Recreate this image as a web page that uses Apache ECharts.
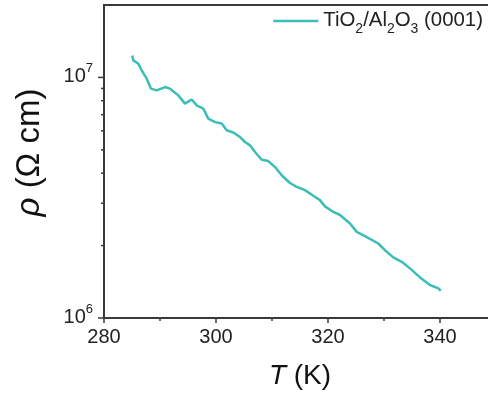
<!DOCTYPE html>
<html>
<head>
<meta charset="utf-8">
<script src="https://cdn.jsdelivr.net/npm/echarts@6/dist/echarts.min.js"></script>
<style>html,body{margin:0;padding:0;background:#fff;}#c{width:488px;height:398px;}</style>
</head>
<body>
<div id="c"></div>
<script>
var seriesName = 'TiO2/Al2O3 (0001)';
var temps = [285.05, 285.23, 286.13, 286.73, 287.63, 288.39, 289.41, 290.89, 291.79, 293.27, 294.46, 295.66, 296.55, 297.73, 298.63, 299.82, 301.02, 301.91, 303.09, 304.29, 305.18, 306.07, 306.96, 308.16, 309.34, 310.54, 311.73, 313.21, 314.41, 315.89, 317.38, 318.57, 319.46, 320.95, 322.14, 323.93, 325.13, 326.91, 328.98, 330.48, 331.66, 333.16, 334.64, 336.43, 338.21, 339.70, 340.13];
var rho = [1.234e7, 1.177e7, 1.140e7, 1.069e7, 9.88e6, 8.98e6, 8.83e6, 9.12e6, 8.98e6, 8.42e6, 7.78e6, 8.10e6, 7.65e6, 7.42e6, 6.74e6, 6.52e6, 6.43e6, 6.03e6, 5.90e6, 5.65e6, 5.39e6, 5.22e6, 4.90e6, 4.55e6, 4.49e6, 4.24e6, 3.92e6, 3.64e6, 3.51e6, 3.40e6, 3.22e6, 3.09e6, 2.91e6, 2.76e6, 2.68e6, 2.47e6, 2.28e6, 2.17e6, 2.04e6, 1.884e6, 1.786e6, 1.712e6, 1.608e6, 1.475e6, 1.371e6, 1.328e6, 1.298e6];
var xMin = 280, xMax = 350, xInterval = 20;
var yMin = 1e6, yMax = 2e7;
var xMinorTicks = [290, 310, 330];
var yMajorTicks = [1e6, 1e7];
var yMinorTicks = [2e6, 3e6, 4e6, 5e6, 6e6, 7e6, 8e6, 9e6];

var FONT = '"Liberation Sans", Arial, sans-serif';
var AX = '#3a3a3a';
var LINE = '#3bbdb8';
var chart = echarts.init(document.getElementById('c'), null, {renderer: 'canvas'});

function tickSeries(data, horizontal, len) {
  return {
    type: 'custom', silent: true, clip: false, z: 5,
    data: data,
    renderItem: function (params, api) {
      var p = api.coord([api.value(0), api.value(1)]);
      var shape = horizontal ? {x1: p[0] - len, y1: p[1], x2: p[0], y2: p[1]}
                             : {x1: p[0], y1: p[1], x2: p[0], y2: p[1] + len};
      return {type: 'line', shape: shape, style: {stroke: AX, lineWidth: 1.5}};
    }
  };
}

var option = {
  animation: false,
  backgroundColor: '#fff',
  textStyle: {fontFamily: FONT},
  grid: {left: 104, right: -8, top: 5, bottom: 80, show: true, borderColor: AX, borderWidth: 2, outerBoundsMode: 'none'},
  legend: {
    data: [seriesName],
    left: 267, top: 5,
    itemWidth: 45, itemHeight: 14,
    itemStyle: {opacity: 0},
    lineStyle: {width: 2.5, color: LINE},
    formatter: function () { return '{n|TiO}{s|2}{n|/Al}{s|2}{n|O}{s|3}{n| (0001)}'; },
    textStyle: {
      fontFamily: FONT, color: '#222',
      rich: {
        n: {fontSize: 20.4, lineHeight: 22, fontFamily: FONT, color: '#222', verticalAlign: 'top'},
        s: {fontSize: 14, lineHeight: 14, padding: [12, 0, 0, 0], fontFamily: FONT, color: '#222', verticalAlign: 'top'}
      }
    }
  },
  xAxis: {
    type: 'value', min: xMin, max: xMax, interval: xInterval,
    name: '{i|T} (K)', nameLocation: 'middle', nameGap: 44,
    nameTextStyle: {fontSize: 28, fontFamily: FONT, color: '#111',
      rich: {i: {fontSize: 28, fontStyle: 'italic', fontFamily: FONT, color: '#111'}}},
    axisLine: {lineStyle: {color: AX, width: 2}},
    axisTick: {show: true, length: 5, lineStyle: {color: AX, width: 1.5}},
    axisLabel: {fontSize: 20, color: '#222', margin: 9, showMaxLabel: false, fontFamily: FONT},
    splitLine: {show: false}
  },
  yAxis: {
    type: 'log', min: yMin, max: yMax, logBase: 10,
    name: '{i|ρ} (Ω cm)', nameLocation: 'middle', nameGap: 58, nameRotate: 90,
    nameTextStyle: {fontSize: 33, fontFamily: FONT, color: '#111', padding: [0, 0, 0, 18],
      rich: {i: {fontSize: 33, fontStyle: 'italic', fontFamily: FONT, color: '#111'}}},
    axisLine: {lineStyle: {color: AX, width: 2}},
    axisTick: {show: false},
    axisLabel: {
      margin: 11, showMaxLabel: false, padding: [0, 0, 6, 0],
      formatter: function (v) { return '{b|10}{s|' + Math.round(Math.log10(v)) + '}'; },
      rich: {
        b: {fontSize: 20, lineHeight: 24, verticalAlign: 'bottom', fontFamily: FONT, color: '#222'},
        s: {fontSize: 13, lineHeight: 13, verticalAlign: 'top', fontFamily: FONT, color: '#222'}
      }
    },
    splitLine: {show: false}
  },
  series: [
    {
      name: seriesName, type: 'line', symbol: 'none', smooth: false,
      lineStyle: {color: LINE, width: 2.5},
      itemStyle: {color: LINE},
      data: temps.map(function (t, i) { return [t, rho[i]]; }),
      z: 3
    },
    tickSeries(xMinorTicks.map(function (v) { return [v, yMin]; }), false, 3),
    tickSeries(yMajorTicks.map(function (v) { return [xMin, v]; }), true, 6),
    tickSeries(yMinorTicks.map(function (v) { return [xMin, v]; }), true, 3)
  ]
};
chart.setOption(option);
</script>
</body>
</html>
